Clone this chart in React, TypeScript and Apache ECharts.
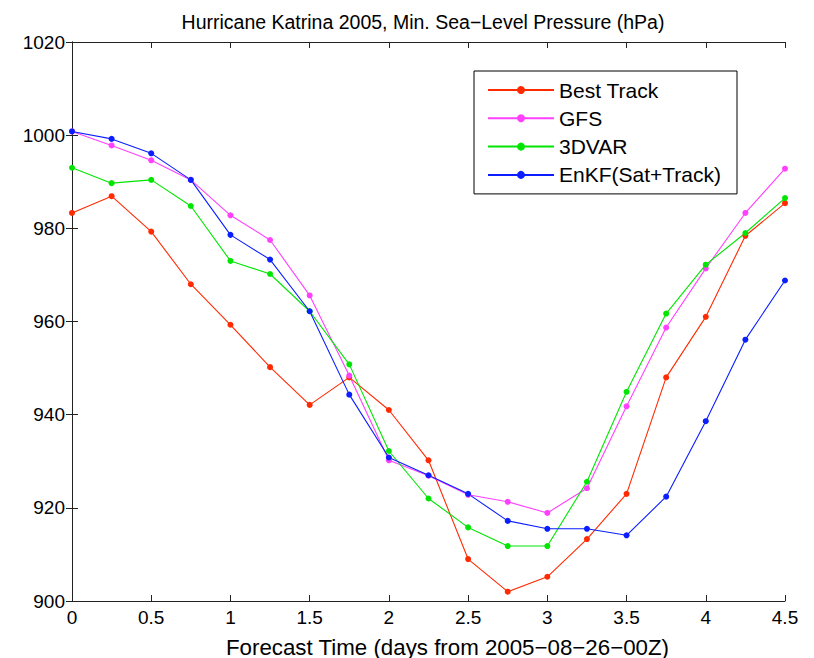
import React, { useEffect, useRef } from "react";
import * as echarts from "echarts";

const days = [0, 0.25, 0.5, 0.75, 1, 1.25, 1.5, 1.75, 2, 2.25, 2.5, 2.75, 3, 3.25, 3.5, 3.75, 4, 4.25, 4.5];
const bestTrack = [983.3, 986.9, 979.3, 968.0, 959.3, 950.2, 942.1, 948.0, 941.0, 930.2, 909.0, 902.0, 905.2, 913.3, 923.0, 948.0, 961.0, 978.4, 985.4];
const gfs = [1000.8, 997.8, 994.6, 990.4, 982.8, 977.5, 965.6, 948.4, 930.2, 926.9, 922.8, 921.3, 918.9, 924.2, 941.8, 958.7, 971.4, 983.3, 992.8];
const threeDVar = [993.0, 989.7, 990.4, 984.8, 973.0, 970.2, 962.2, 950.8, 932.2, 922.0, 915.8, 911.8, 911.8, 925.6, 944.9, 961.7, 972.2, 979.0, 986.5];
const enkf = [1000.8, 999.2, 996.1, 990.4, 978.6, 973.3, 962.2, 944.3, 930.8, 927.0, 923.0, 917.2, 915.5, 915.5, 914.1, 922.4, 938.6, 956.1, 968.8];

const seriesNames = ["Best Track", "GFS", "3DVAR", "EnKF(Sat+Track)"];
const seriesColors = ["#ff2a00", "#ff40ff", "#00e600", "#0a1eff"];
const seriesValues = [bestTrack, gfs, threeDVar, enkf];

const titleText = "Hurricane Katrina 2005, Min. Sea\u2212Level Pressure (hPa)";
const xName = "Forecast Time (days from 2005\u221208\u221226\u221200Z)";

export default function App() {
  const ref = useRef<HTMLDivElement>(null);
  useEffect(() => {
    if (!ref.current) return;
    const chart = echarts.init(ref.current, null, { renderer: "svg" });
    const font = "'Liberation Sans', Arial, Helvetica, sans-serif";
    const axisColor = "#222222";
    const baseX = {
      type: "value" as const,
      min: 0,
      max: 4.5,
      interval: 0.5,
      splitLine: { show: false },
      axisLine: { show: true, lineStyle: { color: axisColor, width: 1 } },
      axisTick: { show: true, inside: true, length: 6, lineStyle: { color: axisColor } },
    };
    const baseY = {
      type: "value" as const,
      min: 900,
      max: 1020,
      interval: 20,
      splitLine: { show: false },
      axisLine: { show: true, lineStyle: { color: axisColor, width: 1 } },
      axisTick: { show: true, inside: true, length: 6, lineStyle: { color: axisColor } },
    };
    chart.setOption({
      animation: false,
      backgroundColor: "#ffffff",
      textStyle: { fontFamily: font },
      title: {
        text: titleText,
        left: 418,
        textAlign: "center",
        top: 7,
        textStyle: { fontFamily: font, fontSize: 19.5, fontWeight: "normal", color: "#000" },
      },
      legend: {
        orient: "vertical",
        left: 474,
        top: 71,
        padding: [7, 16, 7, 13],
        itemWidth: 66,
        itemHeight: 10,
        itemGap: 4.3,
        borderColor: "#000",
        borderWidth: 1,
        backgroundColor: "#fff",
        align: "left",
        textStyle: { fontFamily: font, fontSize: 21, color: "#000", lineHeight: 24 },
        data: seriesNames,
      },
      grid: { left: 72, right: 29, top: 42, bottom: 57, containLabel: false, outerBoundsMode: "none" },
      xAxis: [
        {
          ...baseX,
          position: "bottom",
          name: xName,
          nameLocation: "middle",
          nameGap: 35,
          nameTextStyle: { fontFamily: font, fontSize: 22.3, color: "#000", padding: [0, 0, 0, 38] },
          axisLabel: { fontFamily: font, fontSize: 19, color: "#000", margin: 7 },
        },
        { ...baseX, position: "top", axisLabel: { show: false } },
      ],
      yAxis: [
        {
          ...baseY,
          position: "left",
          axisLabel: {
            fontFamily: font,
            fontSize: 19,
            color: "#000",
            margin: 7,
            formatter: (v: number) => String(v),
          },
        },
        { ...baseY, position: "right", axisLabel: { show: false } },
      ],
      series: seriesNames.map((name, i) => ({
        name,
        type: "line",
        xAxisIndex: 0,
        yAxisIndex: 0,
        data: days.map((d, j) => [d, seriesValues[i][j]]),
        symbol: "circle",
        symbolSize: 6,
        showSymbol: true,
        itemStyle: { color: seriesColors[i] },
        lineStyle: { color: seriesColors[i], width: 1.1 },
        emphasis: { disabled: true },
      })),
    });
    return () => chart.dispose();
  }, []);
  return <div ref={ref} style={{ width: 814, height: 658, position: "absolute", left: 0, top: 0 }} />;
}
